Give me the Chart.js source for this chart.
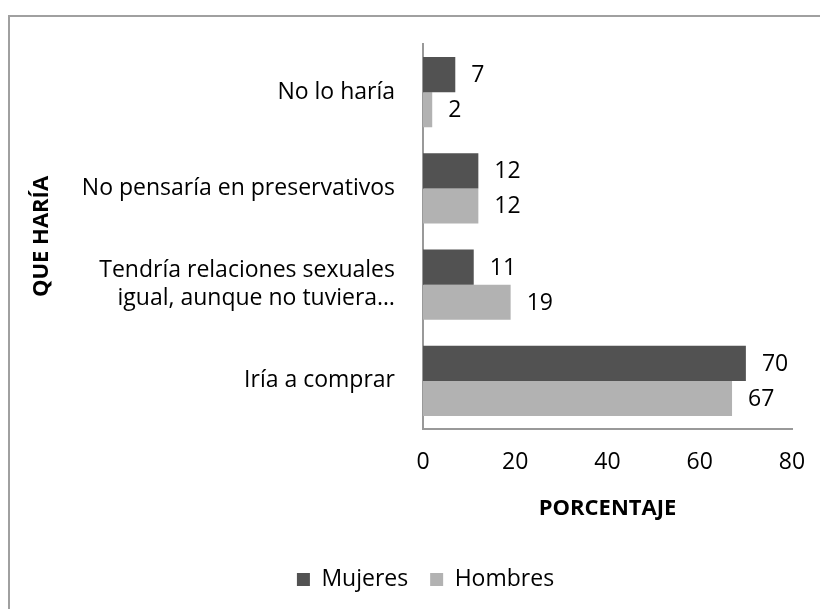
<!DOCTYPE html>
<html>
<head>
<meta charset="utf-8">
<script src="https://cdn.jsdelivr.net/npm/chart.js@4"></script>
<style>
    body { margin: 0; background: #fff; }
    #cadre { position: absolute; left: 0; top: 0; width: 820px; height: 609px; }
    #bord { position: absolute; left: 8px; top: 15px; width: 812px; height: 594px;
            border-left: 2px solid #a0a0a0; border-top: 2px solid #a0a0a0; pointer-events: none; }
</style>
</head>
<body>
<div id="cadre"><canvas id="canvas_que_haria" width="820" height="609"></canvas></div>
<div id="bord"></div>
<script>
const categories = [
    "No lo haría",
    "No pensaría en preservativos",
    ["Tendría relaciones sexuales", "igual, aunque no tuviera…"],
    "Iría a comprar"
];
const mujeres = [7, 12, 11, 70];
const hombres = [2, 12, 19, 67];
const ticks_x = [0, 20, 40, 60, 80];

const police = "'Open Sans', sans-serif";

// etiquettes de valeur au bout des barres
const etiquettes = {
    id: 'etiquettes',
    afterDatasetsDraw(chart) {
        const ctx = chart.ctx;
        ctx.save();
        ctx.font = "23px " + police;
        ctx.fillStyle = '#000';
        ctx.textAlign = 'left';
        ctx.textBaseline = 'middle';
        chart.data.datasets.forEach(function (ds, i) {
            chart.getDatasetMeta(i).data.forEach(function (bar, j) {
                ctx.fillText(ds.data[j], bar.x + 16, bar.y + 1);
            });
        });
        ctx.restore();
    }
};

// la légende est un peu décalée vers la droite dans l'original
const decale_legende = {
    id: 'decale_legende',
    afterLayout(chart) {
        chart.legend.left += 17;
        chart.legend.right += 17;
        chart.legend.top += 2;
        chart.legend.bottom += 2;
    }
};

let chart_datas = {
    labels: categories,
    datasets: [
        {
            label: "Mujeres",
            backgroundColor: '#525252',
            data: mujeres
        },
        {
            label: "Hombres",
            backgroundColor: '#b2b2b2',
            data: hombres
        }
    ]
};
let options = {
    indexAxis: 'y',
    responsive: false,
    animation: false,
    categoryPercentage: 0.73,
    barPercentage: 1.0,
    layout: {
        padding: { top: 44, right: 28, bottom: 10, left: 25 }
    },
    plugins: {
        legend: {
            position: 'bottom',
            labels: {
                boxWidth: 13,
                boxHeight: 13,
                color: '#000',
                padding: 10,
                font: { family: police, size: 23 },
                generateLabels: function (chart) {
                    const items = Chart.defaults.plugins.legend.labels.generateLabels(chart);
                    items[0].text = items[0].text + '  ';
                    return items;
                }
            }
        },
        tooltip: { enabled: false }
    },
    scales: {
        x: {
            min: 0,
            max: 80,
            afterBuildTicks: function (scale) {
                scale.ticks = ticks_x.map(v => ({ value: v }));
            },
            afterFit: function (scale) {
                scale.height = 127;
                scale.paddingLeft = 0;
                scale.paddingRight = 0;
            },
            grid: { display: false, drawTicks: false },
            border: { display: true, color: '#999', width: 2 },
            ticks: {
                color: '#000',
                padding: 20,
                maxRotation: 0,
                font: { family: police, size: 23 }
            },
            title: {
                display: true,
                text: "PORCENTAJE",
                color: '#000',
                padding: { top: 4, bottom: 34 },
                font: { family: police, size: 22, weight: 'bold' }
            }
        },
        y: {
            afterFit: function (scale) {
                scale.width = 398;
            },
            grid: { display: false, drawTicks: false },
            border: { display: true, color: '#999', width: 2 },
            ticks: {
                color: '#000',
                padding: 28,
                font: { family: police, size: 23 }
            },
            title: {
                display: true,
                text: "QUE HARÍA",
                color: '#000',
                padding: { top: 4, bottom: 4 },
                font: { family: police, size: 22, weight: 'bold' }
            }
        }
    }
};
const group_chart = document.getElementById("canvas_que_haria");
const graph = new Chart(group_chart, {
    type: "bar",
    data: chart_datas,
    options: options,
    plugins: [etiquettes, decale_legende]
});
</script>
</body>
</html>
